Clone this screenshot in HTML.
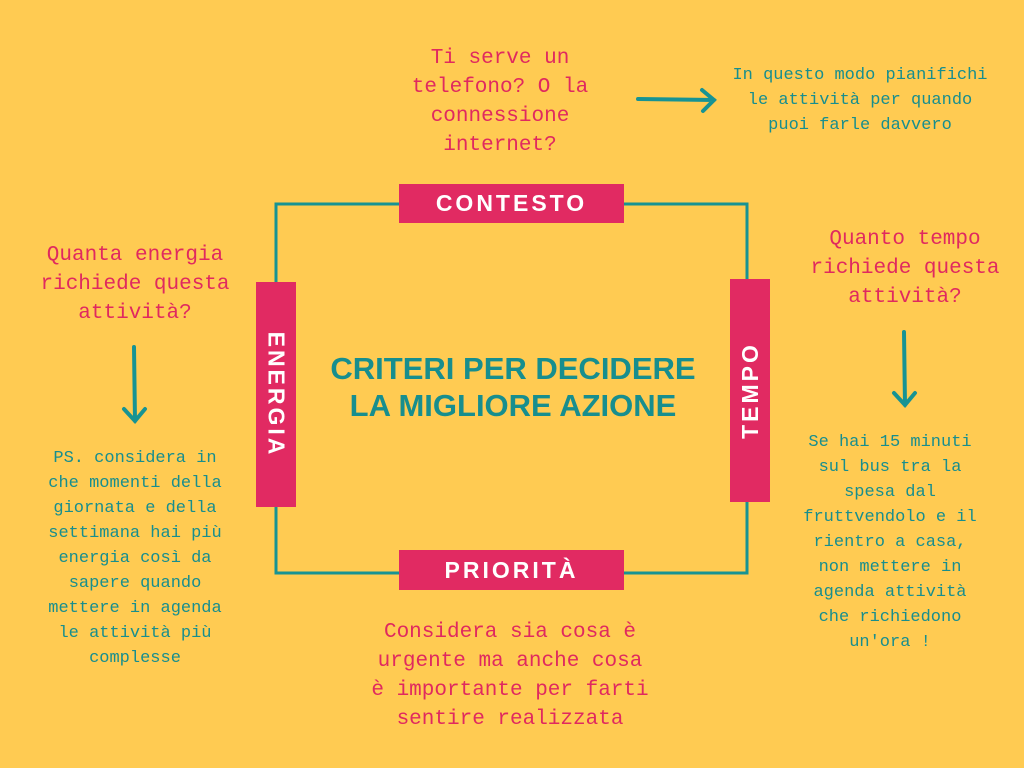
<!DOCTYPE html>
<html><head><meta charset="utf-8"><style>
body{margin:0;width:1024px;height:768px;background:#FFCB52;position:relative;overflow:hidden;font-family:"Liberation Sans",sans-serif}
.t{position:absolute;text-align:center;font-family:"Liberation Mono",monospace;line-height:1.25;white-space:nowrap}
.p{color:#E0295F;font-size:21px;line-height:29px}
.g{color:#178E8E;font-size:17px;line-height:25px}
.box{position:absolute;background:#E12A62;color:#fff;font-weight:bold;font-size:23px;letter-spacing:3px;display:flex;align-items:center;justify-content:center}
</style></head><body>
<svg width="1024" height="768" style="position:absolute;left:0;top:0">
<rect x="276" y="204" width="471" height="369" fill="none" stroke="#179393" stroke-width="3"/>
<g stroke="#179393" stroke-width="4" fill="none" stroke-linecap="round">
<path d="M638 99 L714 100 M702 90 L714 100 L703 111"/>
<path d="M134 347 L135 421 M124 409 L135 421 L145 409"/>
<path d="M904 332 L905 405 M894 393 L905 405 L915 393"/>
</g>
</svg>
<div class="box" style="left:399px;top:184px;width:225px;height:39px">CONTESTO</div>
<div class="box" style="left:399px;top:550px;width:225px;height:40px">PRIORITÀ</div>
<div class="box" style="left:256px;top:282px;width:40px;height:225px"><span style="transform:rotate(90deg);white-space:nowrap">ENERGIA</span></div>
<div class="box" style="left:730px;top:279px;width:40px;height:223px"><span style="transform:rotate(-90deg);white-space:nowrap">TEMPO</span></div>
<div style="position:absolute;left:290px;top:350px;width:446px;text-align:center;color:#178E8E;font-weight:bold;font-size:31px;line-height:37px;letter-spacing:0px">CRITERI PER DECIDERE<br>LA MIGLIORE AZIONE</div>
<div class="t p" style="left:390px;top:44px;width:220px">Ti serve un<br>telefono? O la<br>connessione<br>internet?</div>
<div class="t g" style="left:710px;top:63px;width:300px">In questo modo pianifichi<br>le attività per quando<br>puoi farle davvero</div>
<div class="t p" style="left:20px;top:241px;width:230px">Quanta energia<br>richiede questa<br>attività?</div>
<div class="t p" style="left:790px;top:225px;width:230px">Quanto tempo<br>richiede questa<br>attività?</div>
<div class="t g" style="left:20px;top:446px;width:230px">PS. considera in<br>che momenti della<br>giornata e della<br>settimana hai più<br>energia così da<br>sapere quando<br>mettere in agenda<br>le attività più<br>complesse</div>
<div class="t g" style="left:790px;top:430px;width:200px">Se hai 15 minuti<br>sul bus tra la<br>spesa dal<br>fruttvendolo e il<br>rientro a casa,<br>non mettere in<br>agenda attività<br>che richiedono<br>un'ora !</div>
<div class="t p" style="left:340px;top:618px;width:340px">Considera sia cosa è<br>urgente ma anche cosa<br>è importante per farti<br>sentire realizzata</div>
</body></html>
